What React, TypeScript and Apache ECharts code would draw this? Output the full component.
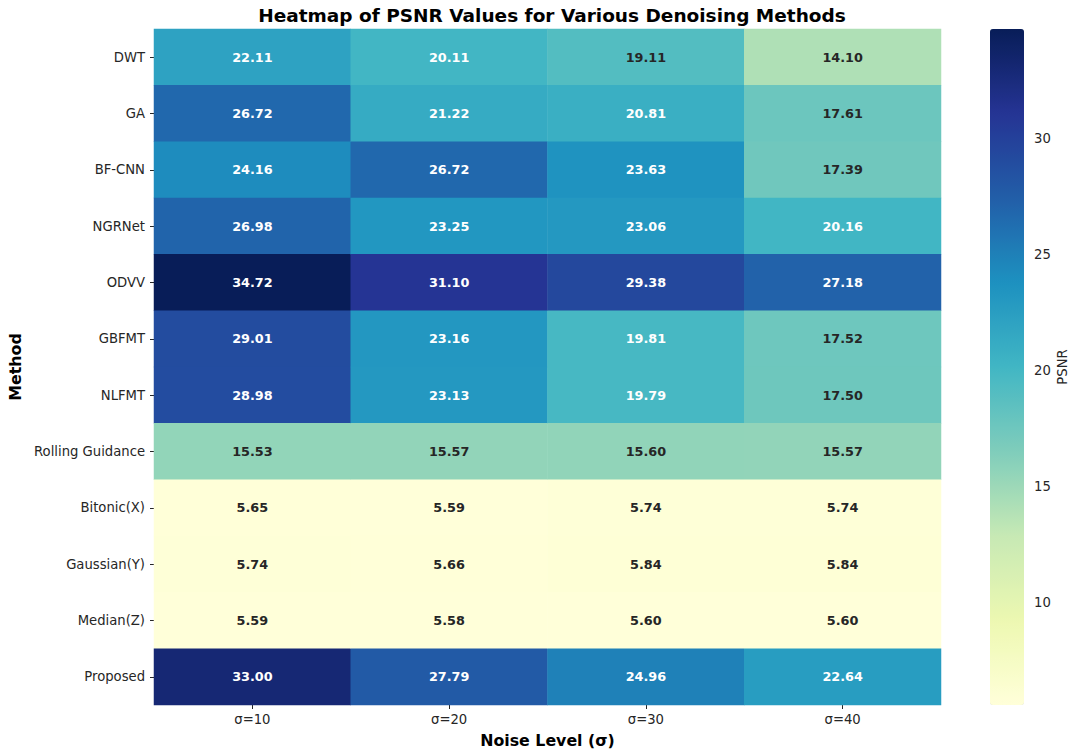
import React, { useEffect, useRef } from "react";
import * as echarts from "echarts";

const methods = [
  "DWT", "GA", "BF-CNN", "NGRNet", "ODVV", "GBFMT", "NLFMT",
  "Rolling Guidance", "Bitonic(X)", "Gaussian(Y)", "Median(Z)", "Proposed",
];
const noiseLevels = ["σ=10", "σ=20", "σ=30", "σ=40"];
const sigma10 = [22.11, 26.72, 24.16, 26.98, 34.72, 29.01, 28.98, 15.53, 5.65, 5.74, 5.59, 33.0];
const sigma20 = [20.11, 21.22, 26.72, 23.25, 31.1, 23.16, 23.13, 15.57, 5.59, 5.66, 5.58, 27.79];
const sigma30 = [19.11, 20.81, 23.63, 23.06, 29.38, 19.81, 19.79, 15.6, 5.74, 5.84, 5.6, 24.96];
const sigma40 = [14.1, 17.61, 17.39, 20.16, 27.18, 17.52, 17.5, 15.57, 5.74, 5.84, 5.6, 22.64];
const colorbarTicks = [10, 15, 20, 25, 30];

const columns = [sigma10, sigma20, sigma30, sigma40];
const allValues = columns.flat();
const vmin = Math.min(...allValues);
const vmax = Math.max(...allValues);

const YLGNBU = ["#ffffd9", "#edf8b1", "#c7e9b4", "#7fcdbb", "#41b6c4", "#1d91c0", "#225ea8", "#253494", "#081d58"];

function hexToRgb(h: string) {
  return [parseInt(h.slice(1, 3), 16), parseInt(h.slice(3, 5), 16), parseInt(h.slice(5, 7), 16)];
}
function cmap(v: number) {
  const t = Math.max(0, Math.min(1, (v - vmin) / (vmax - vmin))) * (YLGNBU.length - 1);
  const i = Math.min(Math.floor(t), YLGNBU.length - 2);
  const f = t - i;
  const a = hexToRgb(YLGNBU[i]);
  const b = hexToRgb(YLGNBU[i + 1]);
  return a.map((c, k) => c + (b[k] - c) * f);
}
function luminance(rgb: number[]) {
  const lin = rgb.map((c) => {
    const s = c / 255;
    return s <= 0.03928 ? s / 12.92 : Math.pow((s + 0.055) / 1.055, 2.4);
  });
  return 0.2126 * lin[0] + 0.7152 * lin[1] + 0.0722 * lin[2];
}

const FONT = "DejaVu Sans";
const TICK_FS = 13.2;

export default function App() {
  const ref = useRef<HTMLDivElement>(null);
  useEffect(() => {
    if (!ref.current) return;
    const chart = echarts.init(ref.current, undefined, { renderer: "svg" });
    const data: any[] = [];
    columns.forEach((col, x) => {
      col.forEach((v, y) => {
        const dark = luminance(cmap(v)) > 0.408;
        data.push({
          value: [x, y, v],
          label: { color: dark ? "#262626" : "#ffffff" },
        });
      });
    });
    chart.setOption({
      animation: false,
      textStyle: { fontFamily: FONT },
      title: {
        text: "Heatmap of PSNR Values for Various Denoising Methods",
        left: 547,
        top: 1,
        textAlign: "center",
        textStyle: { fontFamily: FONT, fontWeight: "bold", fontSize: 18.5, color: "#000" },
      },
      grid: [
        { left: 154, top: 29, width: 787, height: 676, outerBoundsMode: "none", containLabel: false },
        { left: 990, top: 29, width: 34, height: 676, outerBoundsMode: "none", containLabel: false },
      ],
      xAxis: [
        {
          type: "category",
          data: noiseLevels,
          gridIndex: 0,
          axisLine: { show: false },
          axisTick: { show: true, length: 4, lineStyle: { color: "#262626" }, alignWithLabel: true },
          axisLabel: { margin: 8, fontSize: TICK_FS, color: "#262626", fontFamily: FONT },
          splitLine: { show: false },
          name: "Noise Level (σ)",
          nameLocation: "middle",
          nameGap: 27,
          nameTextStyle: { fontFamily: FONT, fontWeight: "bold", fontSize: 15.8, color: "#000" },
        },
        { type: "value", gridIndex: 1, show: false, min: 0, max: 1 },
      ],
      yAxis: [
        {
          type: "category",
          data: methods,
          inverse: true,
          gridIndex: 0,
          axisLine: { show: false },
          axisTick: { show: true, length: 4, lineStyle: { color: "#262626" }, alignWithLabel: true },
          axisLabel: { margin: 9, fontSize: TICK_FS, color: "#262626", fontFamily: FONT },
          splitLine: { show: false },
          name: "Method",
          nameLocation: "middle",
          nameGap: 125,
          nameRotate: 90,
          nameTextStyle: { fontFamily: FONT, fontWeight: "bold", fontSize: 15.8, color: "#000" },
        },
        {
          type: "value",
          gridIndex: 1,
          position: "right",
          min: vmin,
          max: vmax,
          axisLine: { show: false },
          splitLine: { show: false },
          axisTick: { show: true, length: 4, customValues: colorbarTicks, lineStyle: { color: "#262626" } },
          axisLabel: { show: true, margin: 10, customValues: colorbarTicks, fontSize: TICK_FS, color: "#262626", fontFamily: FONT },
          name: "PSNR",
          nameLocation: "middle",
          nameGap: 32,
          nameRotate: 90,
          nameTextStyle: { fontFamily: FONT, fontSize: TICK_FS, color: "#262626" },
        },
      ],
      visualMap: {
        type: "continuous",
        min: vmin,
        max: vmax,
        seriesIndex: 0,
        calculable: false,
        hoverLink: false,
        orient: "vertical",
        left: 990,
        top: 29,
        itemWidth: 34,
        itemHeight: 676,
        padding: 0,
        inRange: { color: YLGNBU },
      },
      series: [
        {
          type: "heatmap",
          xAxisIndex: 0,
          yAxisIndex: 0,
          data,
          label: {
            show: true,
            fontFamily: FONT,
            fontWeight: "bold",
            fontSize: 12.8,
            formatter: (p: any) => Number(p.value[2]).toFixed(2),
          },
          emphasis: { disabled: true },
        },
      ],
    });
    return () => chart.dispose();
  }, []);
  return (
    <div
      ref={ref}
      style={{ position: "absolute", left: 0, top: 0, width: 1073, height: 752, background: "#fff" }}
    />
  );
}
